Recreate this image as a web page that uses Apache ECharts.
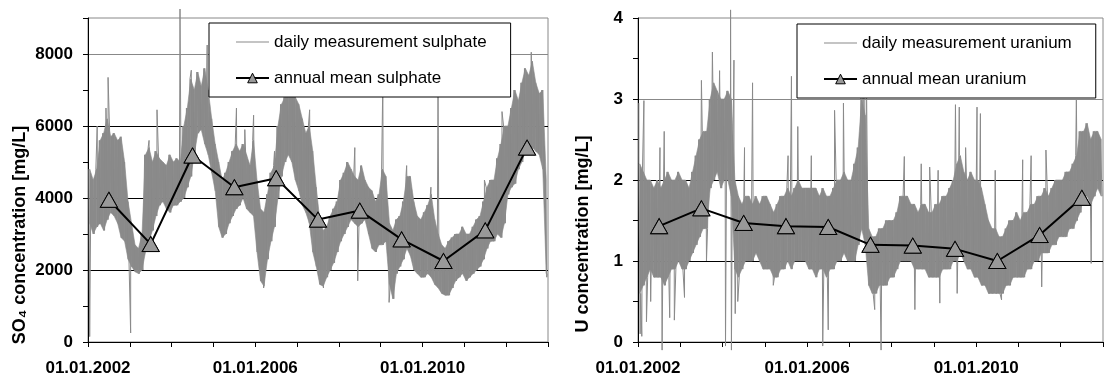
<!DOCTYPE html>
<html>
<head>
<meta charset="utf-8">
<script src="https://cdn.jsdelivr.net/npm/echarts@6/dist/echarts.min.js"></script>
<style>
  html, body { margin: 0; padding: 0; background: #fff; }
  #chart { width: 1106px; height: 379px; }
</style>
</head>
<body>
<div id="chart"></div>
<script>
// annual means, plotted mid-year
const years = [2002, 2003, 2004, 2005, 2006, 2007, 2008, 2009, 2010, 2011, 2012];
const meanSulphate = [3950, 2720, 5180, 4300, 4550, 3400, 3650, 2850, 2250, 3100, 5400];
const meanUranium = [1.43, 1.65, 1.47, 1.43, 1.42, 1.2, 1.19, 1.15, 1.0, 1.32, 1.78];

const sulphateLow = [
  3300, 3000, 3200, 3300, 3100, 3400, 3600, 3500, 3300, 2900, 2800, 2300,
  2100, 1950, 1900, 2000, 2500, 2800, 3100, 3500, 3800, 3900, 3700, 3600,
  3800, 3800, 3900, 4000, 4300, 4600, 5200, 5800, 5900, 5500, 5200, 4700,
  4200, 3200, 2900, 3000, 3300, 3500, 3700, 3800, 4000, 3700, 3600, 3500,
  2500, 1700, 1550, 2300, 2800, 3200, 4000, 4600, 5000, 5200, 5000, 4500,
  4200, 3800, 3600, 3300, 2500, 2100, 1600, 1550, 1800, 2000, 2200, 2500,
  2800, 3000, 3200, 3400, 3300, 3200, 3300, 3400, 3000, 2600, 2500, 2700,
  2700, 2800, 1600, 1200, 1900, 2100, 2300, 2600, 2400, 2000, 1900, 1800,
  1800, 1900, 1800, 1600, 1500, 1350, 1300, 1300, 1500, 1700, 1800, 1900,
  1700, 1800, 1900, 2000, 2100, 2300, 2600, 2800, 2800, 3000, 2900, 3300,
  4100, 4300, 4400, 4800, 5000, 5300, 5200, 5400, 5300, 5200, 4800, 1900
];
const sulphateHigh = [
  4800, 4500, 4800, 5600, 5800, 6200, 5700, 5800, 5600, 5700, 5000, 3900,
  3300, 2700, 2600, 3000, 5200, 5400, 5000, 5300, 5100, 5000, 4900, 5200,
  5000, 5100, 5000, 6000, 6500, 7300, 7000, 7500, 7100, 7600, 7000, 6200,
  5500, 5000, 4500, 4700, 5000, 5300, 5500, 5300, 5500, 5200, 4900, 5600,
  4500, 3700, 3600, 4100, 4700, 4900, 6000, 6600, 6800, 7000, 7000, 6800,
  6600, 6200, 5800, 6000, 5300, 4300, 3400, 3100, 3200, 3500, 3700, 3900,
  4500, 4700, 5000, 4800, 4600, 4500, 4900, 4500, 4300, 4200, 3900, 4100,
  4800, 4600, 3300, 3100, 3400, 3500, 3900, 4600, 4600, 3900, 3500, 3400,
  3600, 3800, 4100, 3400, 3000, 2700, 2600, 2800, 2900, 3000, 3000, 3200,
  3000, 3000, 3200, 3400, 3500, 3900, 4300, 4500, 4500, 5100, 5500, 6000,
  6000, 6500, 7000, 6700, 7200, 7600, 7400, 7800, 7200, 6900, 7000, 4500
];
const sulphateSpikes = [
  [2002.04, 150], [2002.22, 6000], [2002.43, 6500], [2002.48, 7350],
  [2003.02, 250], [2003.46, 5600], [2003.65, 6450],
  [2004.2, 9250], [2004.47, 7550], [2004.85, 8250],
  [2005.55, 6500], [2005.75, 5900], [2005.96, 6300],
  [2006.2, 1500], [2006.46, 5300],
  [2007.3, 6450], [2007.63, 1500],
  [2008.38, 5400], [2008.45, 1700],
  [2009.05, 7200], [2009.2, 1100], [2009.62, 4900],
  [2010.2, 4300], [2010.37, 7200], [2010.58, 1250],
  [2011.48, 4500], [2011.9, 6400],
  [2012.6, 8050], [2012.97, 1800]
];

const uraniumLow = [
  0.6, 0.7, 0.8, 0.9, 0.8, 0.8, 0.8, 0.7, 0.8, 0.9, 0.9, 1.0,
  0.9, 0.9, 1.0, 1.1, 1.2, 1.3, 1.4, 1.4, 1.9, 2.0, 2.1, 1.9,
  2.0, 2.0, 1.8, 0.9, 0.8, 0.9, 1.0, 1.0, 1.0, 1.1, 1.0, 0.9,
  0.9, 0.9, 0.8, 0.8, 0.9, 0.9, 1.0, 0.9, 1.0, 1.0, 1.0, 1.0,
  0.9, 0.9, 0.8, 0.9, 0.9, 0.8, 0.9, 0.9, 1.0, 1.0, 1.1, 1.0,
  1.0, 1.0, 1.2, 1.4, 1.2, 0.7, 0.6, 0.6, 0.7, 0.7, 0.7, 0.8,
  0.8, 0.9, 1.0, 1.0, 1.0, 1.0, 0.9, 0.9, 0.9, 0.9, 0.8, 0.8,
  0.8, 0.8, 0.9, 0.9, 0.9, 1.0, 1.0, 1.1, 1.0, 0.9, 0.9, 0.8,
  0.8, 0.7, 0.7, 0.6, 0.6, 0.6, 0.6, 0.6, 0.7, 0.7, 0.8, 0.8,
  0.8, 0.8, 0.9, 0.9, 1.0, 1.0, 1.1, 1.1, 1.1, 1.2, 1.2, 1.3,
  1.3, 1.3, 1.4, 1.4, 1.5, 1.6, 1.8, 1.8, 1.7, 1.8, 1.9, 1.8
];
const uraniumHigh = [
  2.2, 2.1, 2.0, 2.0, 1.9, 2.0, 1.9, 2.0, 2.1, 2.0, 2.0, 2.1,
  2.0, 2.0, 1.9, 2.1, 2.3, 2.5, 2.6, 2.6, 3.0, 3.2, 3.1, 3.0,
  3.0, 3.1, 3.0, 2.0, 1.8, 1.7, 1.8, 1.8, 1.7, 1.8, 1.7, 1.8,
  1.8, 1.7, 1.6, 1.7, 1.8, 1.8, 1.9, 1.8, 1.9, 2.0, 1.9, 1.9,
  1.9, 1.9, 1.9, 1.8, 1.9, 1.8, 1.8, 1.9, 2.0, 2.0, 2.1, 2.0,
  2.0, 2.2, 2.4, 3.0, 2.8, 1.4, 1.3, 1.3, 1.4, 1.4, 1.5, 1.5,
  1.5, 1.6, 1.8, 1.8, 1.8, 1.7, 1.7, 1.6, 1.7, 1.7, 1.6, 1.6,
  1.7, 1.7, 1.8, 1.8, 1.9, 2.0, 2.2, 2.3, 2.1, 2.0, 2.1, 2.0,
  2.0, 1.9, 1.7, 1.5, 1.4, 1.4, 1.3, 1.3, 1.4, 1.5, 1.5, 1.6,
  1.5, 1.6, 1.6, 1.7, 1.7, 1.8, 1.8, 1.9, 1.8, 1.9, 2.0, 2.0,
  2.0, 2.1, 2.1, 2.2, 2.3, 2.6, 2.6, 2.7, 2.5, 2.6, 2.6, 2.5
];
const uraniumSpikes = [
  [2002.02, 2.95], [2002.05, 0.1], [2002.09, 0.07], [2002.14, 2.98], [2002.2, 0.25],
  [2002.3, 0.5], [2002.52, 2.4], [2002.57, -0.1], [2002.62, 2.6], [2002.75, 0.3], [2002.86, 0.27],
  [2003.1, 0.55], [2003.5, 3.23], [2003.62, 1.0], [2003.76, 3.58], [2003.93, 3.35],
  [2004.07, -0.05], [2004.19, 4.1], [2004.21, -0.1], [2004.27, 3.48], [2004.3, 0.35],
  [2004.36, 0.5], [2004.52, 2.4], [2004.71, 3.2],
  [2005.2, 0.7], [2005.55, 2.3], [2005.63, 3.28], [2005.78, 2.66],
  [2006.1, 2.3], [2006.37, -0.05], [2006.5, 0.15], [2006.65, 2.86], [2006.86, 2.95],
  [2007.3, 3.6], [2007.34, 3.8], [2007.4, 3.5], [2007.6, 0.4], [2007.75, -0.1],
  [2008.3, 2.29], [2008.55, 0.4], [2008.7, 2.2], [2008.9, 2.16],
  [2009.1, 2.12], [2009.14, 0.48], [2009.51, 2.93], [2009.55, 0.6], [2009.6, 2.9], [2009.75, 2.4],
  [2010.02, 2.9], [2010.1, 2.82], [2010.45, 2.12], [2010.6, 0.52],
  [2011.1, 2.25], [2011.3, 2.3], [2011.55, 0.68], [2011.65, 2.37],
  [2012.37, 3.0], [2012.6, 2.7], [2012.72, 0.97]
];

const FONT = '"Liberation Sans", Arial, Helvetica, sans-serif';
const CLEAR = 'rgba(0,0,0,0)';
const LINE_ICON = 'path://M0,0H33V1H0Z';
const DAILY_GREY = '#8a8a8a';
const MEAN_FILL = '#999999';
const MARK_W = 17;
const MARK_H = 15;

const monthX = m => 2002 + (m + 0.5) / 12;

// zigzag through each month's band, with the spikes slotted in by date
function daily(low, high, spikes) {
  const pts = [];
  low.forEach((lo, m) => {
    pts.push([2002 + (m + 0.25) / 12, high[m]]);
    pts.push([2002 + (m + 0.75) / 12, lo]);
  });
  spikes.forEach(s => pts.push(s));
  return pts.sort((a, b) => a[0] - b[0]);
}

function means(vals) {
  return years.map((y, i) => [y + 0.5, vals[i]]);
}

// dense core of the daily readings: one filled quad from each month to the next
function bandSeries(axis, low, high) {
  return {
    type: 'custom', xAxisIndex: axis, yAxisIndex: axis, silent: true, z: 1,
    data: low.map((lo, m) => [monthX(m), lo, high[m]]),
    encode: { x: 0, y: [1, 2] },
    renderItem: (params, api) => {
      const i = params.dataIndex;
      if (i >= low.length - 1) return null;
      const pts = [
        api.coord([monthX(i), low[i]]),
        api.coord([monthX(i), high[i]]),
        api.coord([monthX(i + 1), high[i + 1]]),
        api.coord([monthX(i + 1), low[i + 1]])
      ];
      return {
        type: 'polygon', shape: { points: pts },
        style: { fill: DAILY_GREY, stroke: DAILY_GREY, lineWidth: 0.6 }
      };
    }
  };
}

// grey triangle markers on the annual means, placed through the axis scales
function markerSeries(axis, vals) {
  return {
    type: 'custom', xAxisIndex: axis, yAxisIndex: axis, silent: true, z: 5,
    data: means(vals),
    encode: { x: 0, y: 1 },
    renderItem: (params, api) => {
      const c = api.coord([api.value(0), api.value(1)]);
      return {
        type: 'polygon',
        shape: { points: [
          [c[0], c[1] - MARK_H / 2],
          [c[0] + MARK_W / 2, c[1] + MARK_H / 2],
          [c[0] - MARK_W / 2, c[1] + MARK_H / 2]
        ] },
        style: { fill: MEAN_FILL, stroke: '#000', lineWidth: 1 }
      };
    }
  };
}

function xAxis(gridIndex) {
  return {
    gridIndex: gridIndex, type: 'value', min: 2002, max: 2013, interval: 1,
    axisLine: { lineStyle: { color: '#000', width: 1 } },
    axisTick: { length: 5, lineStyle: { color: '#000' } },
    axisLabel: {
      margin: 18, color: '#000', fontFamily: FONT, fontSize: 17, fontWeight: 'bold',
      formatter: v => (v < 2013 && (v - 2002) % 4 === 0) ? '01.01.' + v : ''
    },
    splitLine: { show: false }
  };
}

function yAxis(gridIndex, max, step, name, gap, pad, gridColors, labelEvery) {
  return {
    gridIndex: gridIndex, type: 'value', min: 0, max: max, interval: step,
    name: name, nameLocation: 'middle', nameGap: gap,
    nameTextStyle: { fontFamily: FONT, fontSize: 18, fontWeight: 'bold', color: '#000', padding: [0, pad, 0, 0] },
    axisLine: { show: true, lineStyle: { color: '#000', width: 1 } },
    axisTick: { show: true, length: 5, lineStyle: { color: '#000' } },
    axisLabel: {
      margin: 15, color: '#000', fontFamily: FONT, fontSize: 17, fontWeight: 'bold',
      formatter: v => (Math.abs(v / labelEvery - Math.round(v / labelEvery)) < 1e-6) ? String(v) : ''
    },
    splitLine: { show: true, lineStyle: { color: gridColors, width: 1 } }
  };
}

function legend(left, top, names) {
  return {
    data: [
      { name: names[0], icon: LINE_ICON },
      { name: names[1], itemStyle: { color: MEAN_FILL, borderColor: '#000', borderWidth: 1 } }
    ],
    orient: 'vertical', left: left, top: top,
    padding: [10, 24, 10, 26], itemWidth: 33, itemHeight: 12, itemGap: 18,
    backgroundColor: '#fff', borderColor: '#000', borderWidth: 1, borderRadius: 0,
    selectedMode: false,
    textStyle: { fontFamily: FONT, fontSize: 17, color: '#000', lineHeight: 18 }
  };
}

function dailyLine(name, axis, low, high, spikes) {
  return {
    name: name, type: 'line', xAxisIndex: axis, yAxisIndex: axis,
    data: daily(low, high, spikes),
    symbol: 'none', clip: false,
    lineStyle: { color: DAILY_GREY, width: 1 },
    itemStyle: { color: DAILY_GREY }, z: 2
  };
}

function meanLine(name, axis, vals) {
  return {
    name: name, type: 'line', xAxisIndex: axis, yAxisIndex: axis,
    data: means(vals),
    symbol: 'triangle', symbolSize: [MARK_W, MARK_H],
    lineStyle: { color: '#000', width: 2 },
    itemStyle: { color: MEAN_FILL, borderColor: '#000', borderWidth: 1 }, z: 3
  };
}

const chart = echarts.init(document.getElementById('chart'), null, { renderer: 'canvas' });
chart.setOption({
  animation: false,
  backgroundColor: '#fff',
  grid: [
    { left: 88, top: 18, width: 460, height: 324, show: true, borderColor: '#888', borderWidth: 1 },
    { left: 638, top: 18, width: 476, height: 324, show: true, borderColor: '#888', borderWidth: 1 }
  ],
  xAxis: [xAxis(0), xAxis(1)],
  yAxis: [
    yAxis(0, 9000, 1000, 'SO\u2084 concentration [mg/L]', 59, 110,
      [CLEAR, CLEAR, '#000', CLEAR, '#000', CLEAR, '#000', CLEAR, '#888', CLEAR], 2000),
    yAxis(1, 4, 0.5, 'U concentration [mg/L]', 46, 108,
      [CLEAR, CLEAR, '#000', CLEAR, '#000', CLEAR, '#888', CLEAR, CLEAR], 1)
  ],
  legend: [
    legend(209, 23, ['daily measurement sulphate', 'annual mean sulphate']),
    legend(797, 24, ['daily measurement uranium', 'annual mean uranium'])
  ],
  series: [
    dailyLine('daily measurement sulphate', 0, sulphateLow, sulphateHigh, sulphateSpikes),
    meanLine('annual mean sulphate', 0, meanSulphate),
    dailyLine('daily measurement uranium', 1, uraniumLow, uraniumHigh, uraniumSpikes),
    meanLine('annual mean uranium', 1, meanUranium),
    bandSeries(0, sulphateLow, sulphateHigh),
    bandSeries(1, uraniumLow, uraniumHigh),
    markerSeries(0, meanSulphate),
    markerSeries(1, meanUranium)
  ]
});
</script>
</body>
</html>
